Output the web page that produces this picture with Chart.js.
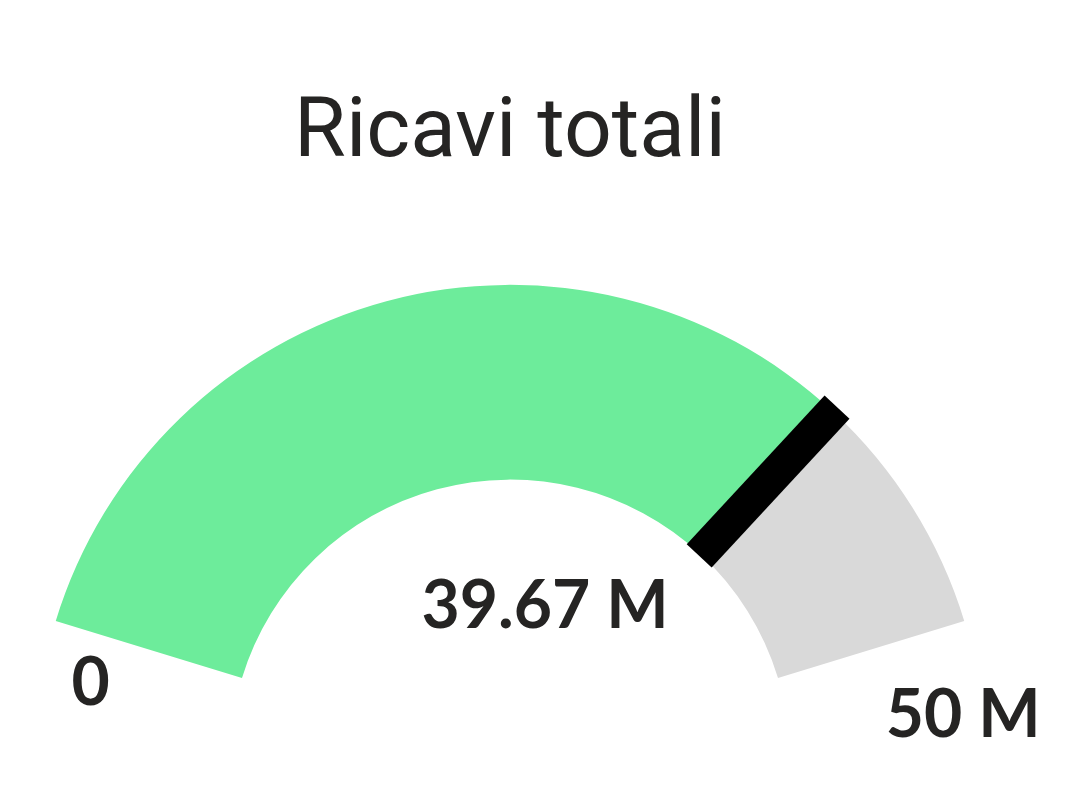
<!DOCTYPE html>
<html lang="it">
<head>
<meta charset="utf-8">
<title>Ricavi totali</title>
<script src="https://cdn.jsdelivr.net/npm/chart.js@4.4.1/dist/chart.umd.min.js"></script>
<style>
  html, body { margin: 0; padding: 0; background: #fff; }
  #wrap { width: 1082px; height: 808px; position: relative; }
</style>
</head>
<body>
<div id="wrap"><canvas id="gauge"></canvas></div>
<script>
  "use strict";

  /* ---- Data (millions) -------------------------------------------------- */
  const chartTitle = "Ricavi totali";
  const segmentLabels = ["Ricavi", "Restante"];
  const gaugeRange = [0, 50];          // min, max
  const gaugeValue = [39.67];          // current value
  const tickLabels = ["0", "50 M"];    // min / max labels
  const unit = " M";

  const GREEN = "#6dec9b";
  const GREY = "#d9d9d9";
  const INK = "#252423";

  const segmentData = [
    gaugeValue[0] - gaugeRange[0],
    gaugeRange[1] - gaugeValue[0],
  ];

  /* Black marker at the end of the value arc + value / min / max labels */
  const gaugeDecor = {
    id: "gaugeDecor",
    afterDatasetsDraw(chart) {
      const arc = chart.getDatasetMeta(0).data[0];
      if (!arc) return;
      const p = arc.getProps(["x", "y", "startAngle", "endAngle", "innerRadius", "outerRadius"], true);
      const ctx = chart.ctx;
      const a = p.endAngle;
      const cos = Math.cos(a), sin = Math.sin(a);

      ctx.save();
      ctx.strokeStyle = "#000";
      ctx.lineWidth = 34;
      ctx.lineCap = "butt";
      ctx.beginPath();
      ctx.moveTo(p.x + cos * (p.innerRadius - 2), p.y + sin * (p.innerRadius - 2));
      ctx.lineTo(p.x + cos * (p.outerRadius + 6), p.y + sin * (p.outerRadius + 6));
      ctx.stroke();

      // labels
      const totalEnd = chart.getDatasetMeta(0).data[1].getProps(["endAngle"], true).endAngle;
      ctx.fillStyle = INK;
      ctx.textAlign = "center";
      ctx.textBaseline = "alphabetic";
      ctx.font = "700 66px Lato";
      ctx.fillText(gaugeValue[0].toFixed(2) + unit, p.x + 35, p.y - 132);

      const sx = p.x + Math.cos(p.startAngle) * p.outerRadius;
      const sy = p.y + Math.sin(p.startAngle) * p.outerRadius;
      const ex = p.x + Math.cos(totalEnd) * p.outerRadius;
      const ey = p.y + Math.sin(totalEnd) * p.outerRadius;
      ctx.fillText(tickLabels[0], sx + 35, sy + 84);
      ctx.fillText(tickLabels[1], ex - 1, ey + 116);
      ctx.restore();
    },
  };

  new Chart(document.getElementById("gauge"), {
    type: "doughnut",
    data: {
      labels: segmentLabels,
      datasets: [{
        data: segmentData,
        backgroundColor: [GREEN, GREY],
        borderWidth: 0,
        hoverOffset: 0,
      }],
    },
    options: {
      responsive: true,
      maintainAspectRatio: false,
      animation: false,
      rotation: -73,
      circumference: 146,
      radius: 475,
      cutout: "59%",
      layout: { padding: { left: 0, right: 62, top: 0, bottom: 31 } },
      plugins: {
        legend: { display: false },
        tooltip: { enabled: false },
        title: {
          display: true,
          text: chartTitle,
          color: INK,
          font: { family: "Roboto", size: 84, weight: "400" },
          padding: { top: 85, bottom: 0 },
        },
      },
    },
    plugins: [gaugeDecor],
  });
</script>
</body>
</html>
